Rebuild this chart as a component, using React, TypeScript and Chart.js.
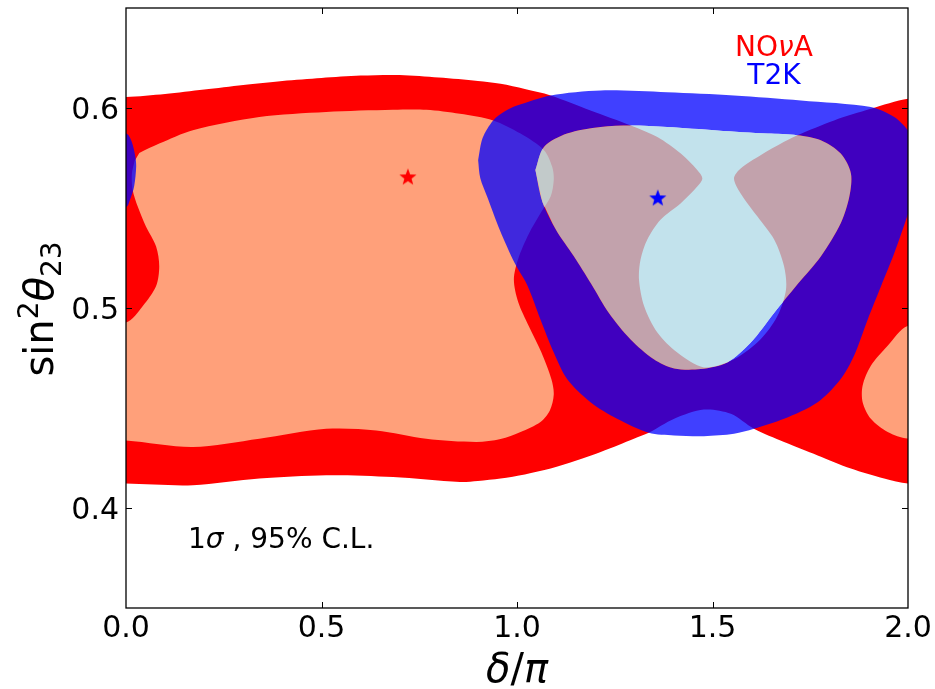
import React, { useEffect, useRef } from 'react';
import { Chart, registerables } from 'chart.js';

Chart.register(...registerables);

// ---------------- data ----------------
const X_TICK_LABELS = ['0.0', '0.5', '1.0', '1.5', '2.0'];
const Y_TICK_LABELS = ['0.4', '0.5', '0.6'];

// NOvA 95% C.L. region (red)
const NOVA_95: [number, number][] = [
  [-0.1, 0.4122], [-0.1, 0.6055], [0, 0.6055], [0.1, 0.607], [0.2, 0.6092], [0.3, 0.6115],
  [0.4, 0.6135], [0.5, 0.615], [0.6, 0.6162], [0.7, 0.6165], [0.8, 0.6152], [0.9, 0.6135],
  [0.958, 0.6121], [1.02, 0.6095], [1.086, 0.6063], [1.188, 0.5988], [1.291, 0.5913],
  [1.359, 0.5855], [1.419, 0.5772], [1.461, 0.569], [1.474, 0.5648], [1.461, 0.5607],
  [1.419, 0.5524], [1.367, 0.5441], [1.333, 0.5341], [1.316, 0.5242], [1.312, 0.5142],
  [1.325, 0.501], [1.359, 0.4877], [1.41, 0.4777], [1.478, 0.4703], [1.555, 0.4744],
  [1.623, 0.4844], [1.666, 0.496], [1.688, 0.5093], [1.683, 0.5209], [1.658, 0.5341],
  [1.615, 0.5457], [1.572, 0.5573], [1.555, 0.5648], [1.572, 0.5698], [1.623, 0.5764],
  [1.683, 0.5831], [1.717, 0.5864], [1.811, 0.5938], [1.905, 0.5996], [2.0, 0.6046],
  [2.1, 0.605], [2.1, 0.412], [2.0, 0.4122], [1.939, 0.4147], [1.854, 0.4197],
  [1.769, 0.4263], [1.683, 0.433], [1.606, 0.4396], [1.547, 0.4471], [1.478, 0.4492],
  [1.402, 0.4446], [1.337, 0.4376], [1.299, 0.4346], [1.26, 0.4315], [1.214, 0.428],
  [1.15, 0.4236], [1.086, 0.4197], [1.02, 0.4168], [0.958, 0.4147], [0.9, 0.4135],
  [0.854, 0.413], [0.683, 0.4155], [0.512, 0.4164], [0.341, 0.4147], [0.171, 0.4114],
  [0, 0.4122],
];

// NOvA 1 sigma region, main lobe (light salmon)
const NOVA_1S_MAIN: [number, number][] = [
  [0.034, 0.5775], [0.085, 0.5822], [0.171, 0.5889], [0.341, 0.5955], [0.512, 0.598],
  [0.683, 0.5991], [0.768, 0.5991], [0.854, 0.5971], [0.939, 0.5938], [1.009, 0.5872],
  [1.069, 0.5789], [1.09, 0.5706], [1.094, 0.564], [1.086, 0.5557], [1.062, 0.548],
  [1.03, 0.537], [1.003, 0.5245], [0.992, 0.5142], [1.003, 0.503], [1.03, 0.491],
  [1.062, 0.478], [1.088, 0.4644], [1.094, 0.4568], [1.084, 0.4488], [1.06, 0.443],
  [1.009, 0.438], [0.958, 0.4345], [0.896, 0.433], [0.768, 0.4346], [0.64, 0.4388],
  [0.512, 0.4396], [0.341, 0.4346], [0.171, 0.4305], [0, 0.4338], [-0.1, 0.4338],
  [-0.1, 0.4927], [0, 0.4927], [0.043, 0.501], [0.077, 0.511], [0.085, 0.5209],
  [0.077, 0.5308], [0.051, 0.5407], [0.03, 0.5507], [0.017, 0.559], [0.015, 0.567],
  [0.022, 0.5735],
];

// NOvA 1 sigma region, small lobe at delta/pi ~ 2
const NOVA_1S_EDGE: [number, number][] = [
  [2.1, 0.491], [1.999, 0.491], [1.948, 0.4811], [1.905, 0.4711], [1.884, 0.4612],
  [1.884, 0.4529], [1.905, 0.4446], [1.948, 0.438], [1.999, 0.4347], [2.1, 0.4347],
];

// T2K 95% C.L. outer boundary (blue)
const T2K_95: [number, number][] = [
  [0.9006, 0.5739], [0.912, 0.585], [0.939, 0.5938], [0.97, 0.5985], [1.0, 0.6012],
  [1.086, 0.6063], [1.214, 0.6088], [1.384, 0.6079], [1.555, 0.6063], [1.726, 0.6038],
  [1.905, 0.6005], [1.965, 0.5955], [2.0, 0.5888], [2.015, 0.583], [2.026, 0.5706],
  [2.018, 0.558], [2.0, 0.547], [1.965, 0.5275], [1.931, 0.5109], [1.897, 0.4943],
  [1.862, 0.4761], [1.828, 0.4645], [1.769, 0.4529], [1.683, 0.4446], [1.606, 0.4396],
  [1.555, 0.4371], [1.478, 0.4359], [1.402, 0.4363], [1.337, 0.4376], [1.256, 0.4446],
  [1.188, 0.4529], [1.128, 0.4645], [1.094, 0.4777], [1.06, 0.4943], [1.026, 0.5115],
  [0.994, 0.5225], [0.956, 0.539], [0.925, 0.555], [0.906, 0.565],
];

// T2K 95% region wrapping around to delta/pi ~ 0
const T2K_95_WRAP: [number, number][] = [
  [-0.1, 0.5872], [0, 0.5872], [0.014, 0.5835], [0.024, 0.5755], [0.026, 0.5706],
  [0.021, 0.561], [0.01, 0.554], [0, 0.5505], [-0.1, 0.5505],
];

// T2K 1 sigma region (light blue)
const T2K_1S: [number, number][] = [
  [1.047, 0.569], [1.069, 0.5805], [1.128, 0.5872], [1.214, 0.5905], [1.291, 0.5913],
  [1.384, 0.5905], [1.512, 0.5888], [1.641, 0.5872], [1.717, 0.5864], [1.777, 0.5839],
  [1.828, 0.5772], [1.854, 0.5673], [1.85, 0.5557], [1.828, 0.5424], [1.777, 0.5258],
  [1.72, 0.5125], [1.658, 0.4976], [1.598, 0.4827], [1.538, 0.4728], [1.47, 0.4695],
  [1.402, 0.4698], [1.35, 0.4744], [1.29, 0.4844], [1.235, 0.4975], [1.19, 0.512],
  [1.145, 0.526], [1.1, 0.539], [1.065, 0.553],
];

// best-fit points
const NOVA_BEST: [number, number] = [0.721, 0.5653];
const T2K_BEST: [number, number] = [1.36, 0.5548];

// ---------------- helpers ----------------
const pts = (arr: [number, number][]) => arr.map(([x, y]) => ({ x, y }));

// outer contour with the inner contour cut out (band); duplicated joints keep the cut straight
function band(outer: [number, number][], inner: [number, number][]) {
  const o = pts(outer);
  const i = pts(inner);
  const innerRev = i.slice(1).reverse();
  return [...o, o[0], o[0], i[0], i[0], ...innerRev, i[0], i[0], o[0]];
}

function makeStar(color: string, r: number) {
  const c = document.createElement('canvas');
  const s = Math.ceil(r * 2 + 2);
  c.width = s;
  c.height = s;
  const g = c.getContext('2d')!;
  g.fillStyle = color;
  g.beginPath();
  for (let k = 0; k < 10; k++) {
    const rad = k % 2 === 0 ? r : r * 0.42;
    const a = -Math.PI / 2 + (k * Math.PI) / 5;
    const px = s / 2 + rad * Math.cos(a);
    const py = s / 2 + rad * Math.sin(a);
    if (k === 0) g.moveTo(px, py);
    else g.lineTo(px, py);
  }
  g.closePath();
  g.fill();
  return c;
}

const FAMILY = '"DejaVu Sans", "Liberation Sans", sans-serif';

type Run = { text: string; size: number; italic?: boolean; dy?: number };

function drawRuns(ctx: CanvasRenderingContext2D, runs: Run[], x: number, y: number, align: 'center' | 'left') {
  const widths = runs.map((r) => {
    ctx.font = `${r.italic ? 'oblique ' : ''}${r.size}px ${FAMILY}`;
    return ctx.measureText(r.text).width;
  });
  const total = widths.reduce((a, b) => a + b, 0);
  let cx = align === 'center' ? x - total / 2 : x;
  ctx.textAlign = 'left';
  ctx.textBaseline = 'alphabetic';
  runs.forEach((r, k) => {
    ctx.font = `${r.italic ? 'oblique ' : ''}${r.size}px ${FAMILY}`;
    ctx.fillText(r.text, cx, y + (r.dy || 0));
    cx += widths[k];
  });
}

const isMult = (v: number, step: number) => Math.abs(v / step - Math.round(v / step)) < 1e-6;

const decorPlugin = {
  id: 'decor',
  afterDatasetsDraw(chart: any) {
    const { ctx, chartArea: a, scales } = chart;
    const xs = scales.x;
    const ys = scales.y;
    ctx.save();
    ctx.strokeStyle = '#000';
    ctx.lineWidth = 1;
    xs.ticks.forEach((t: any) => {
      const v = t.value;
      if (v <= xs.min + 1e-9 || v >= xs.max - 1e-9) return;
      const px = Math.round(xs.getPixelForValue(v)) + 0.5;
      const L = isMult(v, 0.5) ? 6 : 3.5;
      ctx.beginPath();
      ctx.moveTo(px, a.bottom);
      ctx.lineTo(px, a.bottom - L);
      ctx.moveTo(px, a.top);
      ctx.lineTo(px, a.top + L);
      ctx.stroke();
    });
    ys.ticks.forEach((t: any) => {
      const v = t.value;
      if (v <= ys.min + 1e-9 || v >= ys.max - 1e-9) return;
      if (!isMult(v, 0.02)) return;
      const py = Math.round(ys.getPixelForValue(v)) + 0.5;
      const L = isMult(v, 0.1) ? 6 : 3.5;
      ctx.beginPath();
      ctx.moveTo(a.left, py);
      ctx.lineTo(a.left + L, py);
      ctx.moveTo(a.right, py);
      ctx.lineTo(a.right - L, py);
      ctx.stroke();
    });
    ctx.lineWidth = 1.3;
    ctx.strokeRect(a.left, a.top, a.right - a.left, a.bottom - a.top);
    ctx.restore();
  },
  afterDraw(chart: any) {
    const { ctx, chartArea: a } = chart;
    ctx.save();
    ctx.fillStyle = '#000';
    // x axis title
    drawRuns(
      ctx,
      [
        { text: 'δ', size: 40, italic: true },
        { text: '/', size: 40 },
        { text: 'π', size: 40, italic: true },
      ],
      (a.left + a.right) / 2,
      682,
      'center'
    );
    // y axis title
    ctx.save();
    ctx.translate(53, (a.top + a.bottom) / 2 + 1);
    ctx.rotate(-Math.PI / 2);
    drawRuns(
      ctx,
      [
        { text: 'sin', size: 40 },
        { text: '2', size: 28, dy: -15 },
        { text: 'θ', size: 40, italic: true },
        { text: '23', size: 28, dy: 8 },
      ],
      0,
      0,
      'center'
    );
    ctx.restore();
    // annotation
    drawRuns(
      ctx,
      [
        { text: '1', size: 28 },
        { text: 'σ', size: 28, italic: true },
        { text: ' , 95% C.L.', size: 28 },
      ],
      188,
      548,
      'left'
    );
    // legend labels
    ctx.fillStyle = '#ff0000';
    drawRuns(
      ctx,
      [
        { text: 'NO', size: 28 },
        { text: 'ν', size: 28, italic: true },
        { text: 'A', size: 28 },
      ],
      774,
      56,
      'center'
    );
    ctx.fillStyle = '#0000ff';
    drawRuns(ctx, [{ text: 'T2K', size: 28 }], 774, 84, 'center');
    ctx.restore();
  },
};

const polyBase = {
  showLine: true,
  pointRadius: 0,
  pointHoverRadius: 0,
  borderWidth: 0,
  borderColor: 'rgba(0,0,0,0)',
  tension: 0.3,
  fill: 'shape',
};

export default function App() {
  const ref = useRef<HTMLCanvasElement>(null);

  useEffect(() => {
    const canvas = ref.current!;
    const redStar = makeStar('#ff0000', 9);
    const blueStar = makeStar('#0000ff', 9);

    const chart = new Chart(canvas, {
      type: 'scatter',
      data: {
        datasets: [
          { ...polyBase, label: 'NOvA 95%', data: pts(NOVA_95), backgroundColor: '#ff0000', order: 10 } as any,
          { ...polyBase, label: 'NOvA 1σ', data: pts(NOVA_1S_MAIN), backgroundColor: '#ffa07a', order: 9 } as any,
          { ...polyBase, label: 'NOvA 1σ edge', data: pts(NOVA_1S_EDGE), backgroundColor: '#ffa07a', order: 8 } as any,
          { ...polyBase, label: 'T2K 95%', data: band(T2K_95, T2K_1S), backgroundColor: 'rgba(0,0,255,0.75)', order: 7 } as any,
          { ...polyBase, label: 'T2K 95% wrap', data: pts(T2K_95_WRAP), backgroundColor: 'rgba(0,0,255,0.75)', order: 6 } as any,
          { ...polyBase, label: 'T2K 1σ', data: pts(T2K_1S), backgroundColor: 'rgba(173,216,230,0.75)', order: 5 } as any,
          {
            label: 'NOvA best fit',
            data: [{ x: NOVA_BEST[0], y: NOVA_BEST[1] }],
            pointStyle: redStar,
            pointRadius: 6,
            showLine: false,
            order: 1,
          } as any,
          {
            label: 'T2K best fit',
            data: [{ x: T2K_BEST[0], y: T2K_BEST[1] }],
            pointStyle: blueStar,
            pointRadius: 6,
            showLine: false,
            order: 0,
          } as any,
        ],
      },
      options: {
        animation: false,
        responsive: false,
        maintainAspectRatio: false,
        devicePixelRatio: 1,
        events: [],
        layout: { padding: { left: 0, top: 8, right: 27, bottom: 0 } },
        elements: { line: { capBezierPoints: false } as any },
        plugins: {
          legend: { display: false },
          tooltip: { enabled: false },
          title: { display: false },
        },
        scales: {
          x: {
            type: 'linear',
            min: 0,
            max: 2,
            grid: { display: false, drawTicks: false },
            border: { display: false },
            ticks: {
              stepSize: 0.1,
              autoSkip: false,
              maxRotation: 0,
              minRotation: 0,
              padding: 3,
              color: '#000',
              font: { family: FAMILY, size: 30 },
              callback: (v: any) => {
                const n = Number(v);
                const l = X_TICK_LABELS.find((s) => Math.abs(Number(s) - n) < 1e-6);
                return l === undefined ? null : l;
              },
            },
            afterFit: (s: any) => {
              s.height = 81;
              s.paddingLeft = 0;
              s.paddingRight = 0;
            },
          },
          y: {
            type: 'linear',
            min: 0.35,
            max: 0.65,
            grid: { display: false, drawTicks: false },
            border: { display: false },
            ticks: {
              stepSize: 0.01,
              autoSkip: false,
              padding: 7,
              labelOffset: 3,
              color: '#000',
              font: { family: FAMILY, size: 30 },
              callback: (v: any) => {
                const n = Number(v);
                const l = Y_TICK_LABELS.find((s) => Math.abs(Number(s) - n) < 1e-6);
                return l === undefined ? null : l;
              },
            },
            afterFit: (s: any) => {
              s.width = 126;
              s.paddingTop = 0;
              s.paddingBottom = 0;
            },
          },
        },
      } as any,
      plugins: [decorPlugin],
    });
    return () => chart.destroy();
  }, []);

  return (
    <div style={{ position: 'fixed', left: 0, top: 0, width: 935, height: 689, background: '#fff' }}>
      <canvas ref={ref} width={935} height={689} style={{ display: 'block', width: 935, height: 689 }} />
    </div>
  );
}
